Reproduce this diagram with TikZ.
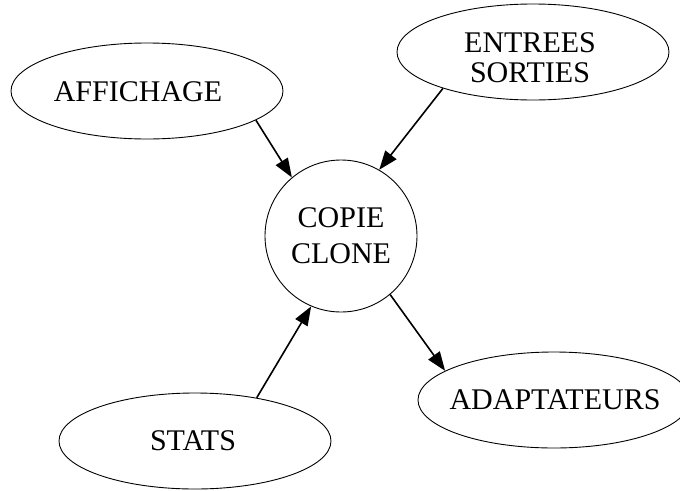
\documentclass[tikz,border=0pt]{standalone}
\usepackage{fontspec}
\setmainfont{Liberation Serif}
\usetikzlibrary{shapes.geometric,arrows.meta}

\begin{document}
\begin{tikzpicture}[x=1pt,y=-1pt,
  oval/.style={draw,ellipse,line width=0.9pt,inner sep=0pt,
               minimum width=272pt,minimum height=96pt},
  hub/.style={draw,circle,line width=0.9pt,inner sep=0pt,minimum size=152pt},
  lbl/.style={inner sep=0pt,align=center,font=\fontsize{30}{36}\selectfont},
  link/.style={line width=1.6pt,-{Triangle[length=19pt,width=14pt]}}]
  \useasboundingbox (0,0) rectangle (680,490);
  \clip (0,0) rectangle (680,490);

  % outlines
  \node[oval] (aff)   at (147,91)  {};
  \node[oval] (es)    at (533,52)  {};
  \node[hub]  (copie) at (341,236) {};
  \node[oval] (adapt) at (554,400) {};
  \node[oval] (stats) at (195,441) {};

  % labels
  \node[lbl] (aff-t)   at (138,91.5) {AFFICHAGE};
  \node[lbl,font=\fontsize{30}{30}\selectfont] (es-t) at (530,58) {ENTREES\\SORTIES};
  \node[lbl] (copie-t) at (341,235.5) {COPIE\\CLONE};
  \node[lbl] (adapt-t) at (555,400) {ADAPTATEURS};
  \node[lbl] (stats-t) at (193,441) {STATS};

  % dependencies
  \draw[link] (aff.-15)   -- (copie.130);
  \draw[link] (es.-158)   -- (copie.60);
  \draw[link] (copie.-50) -- (adapt.165);
  \draw[link] (stats.35)  -- (copie.-113);
\end{tikzpicture}
\end{document}
